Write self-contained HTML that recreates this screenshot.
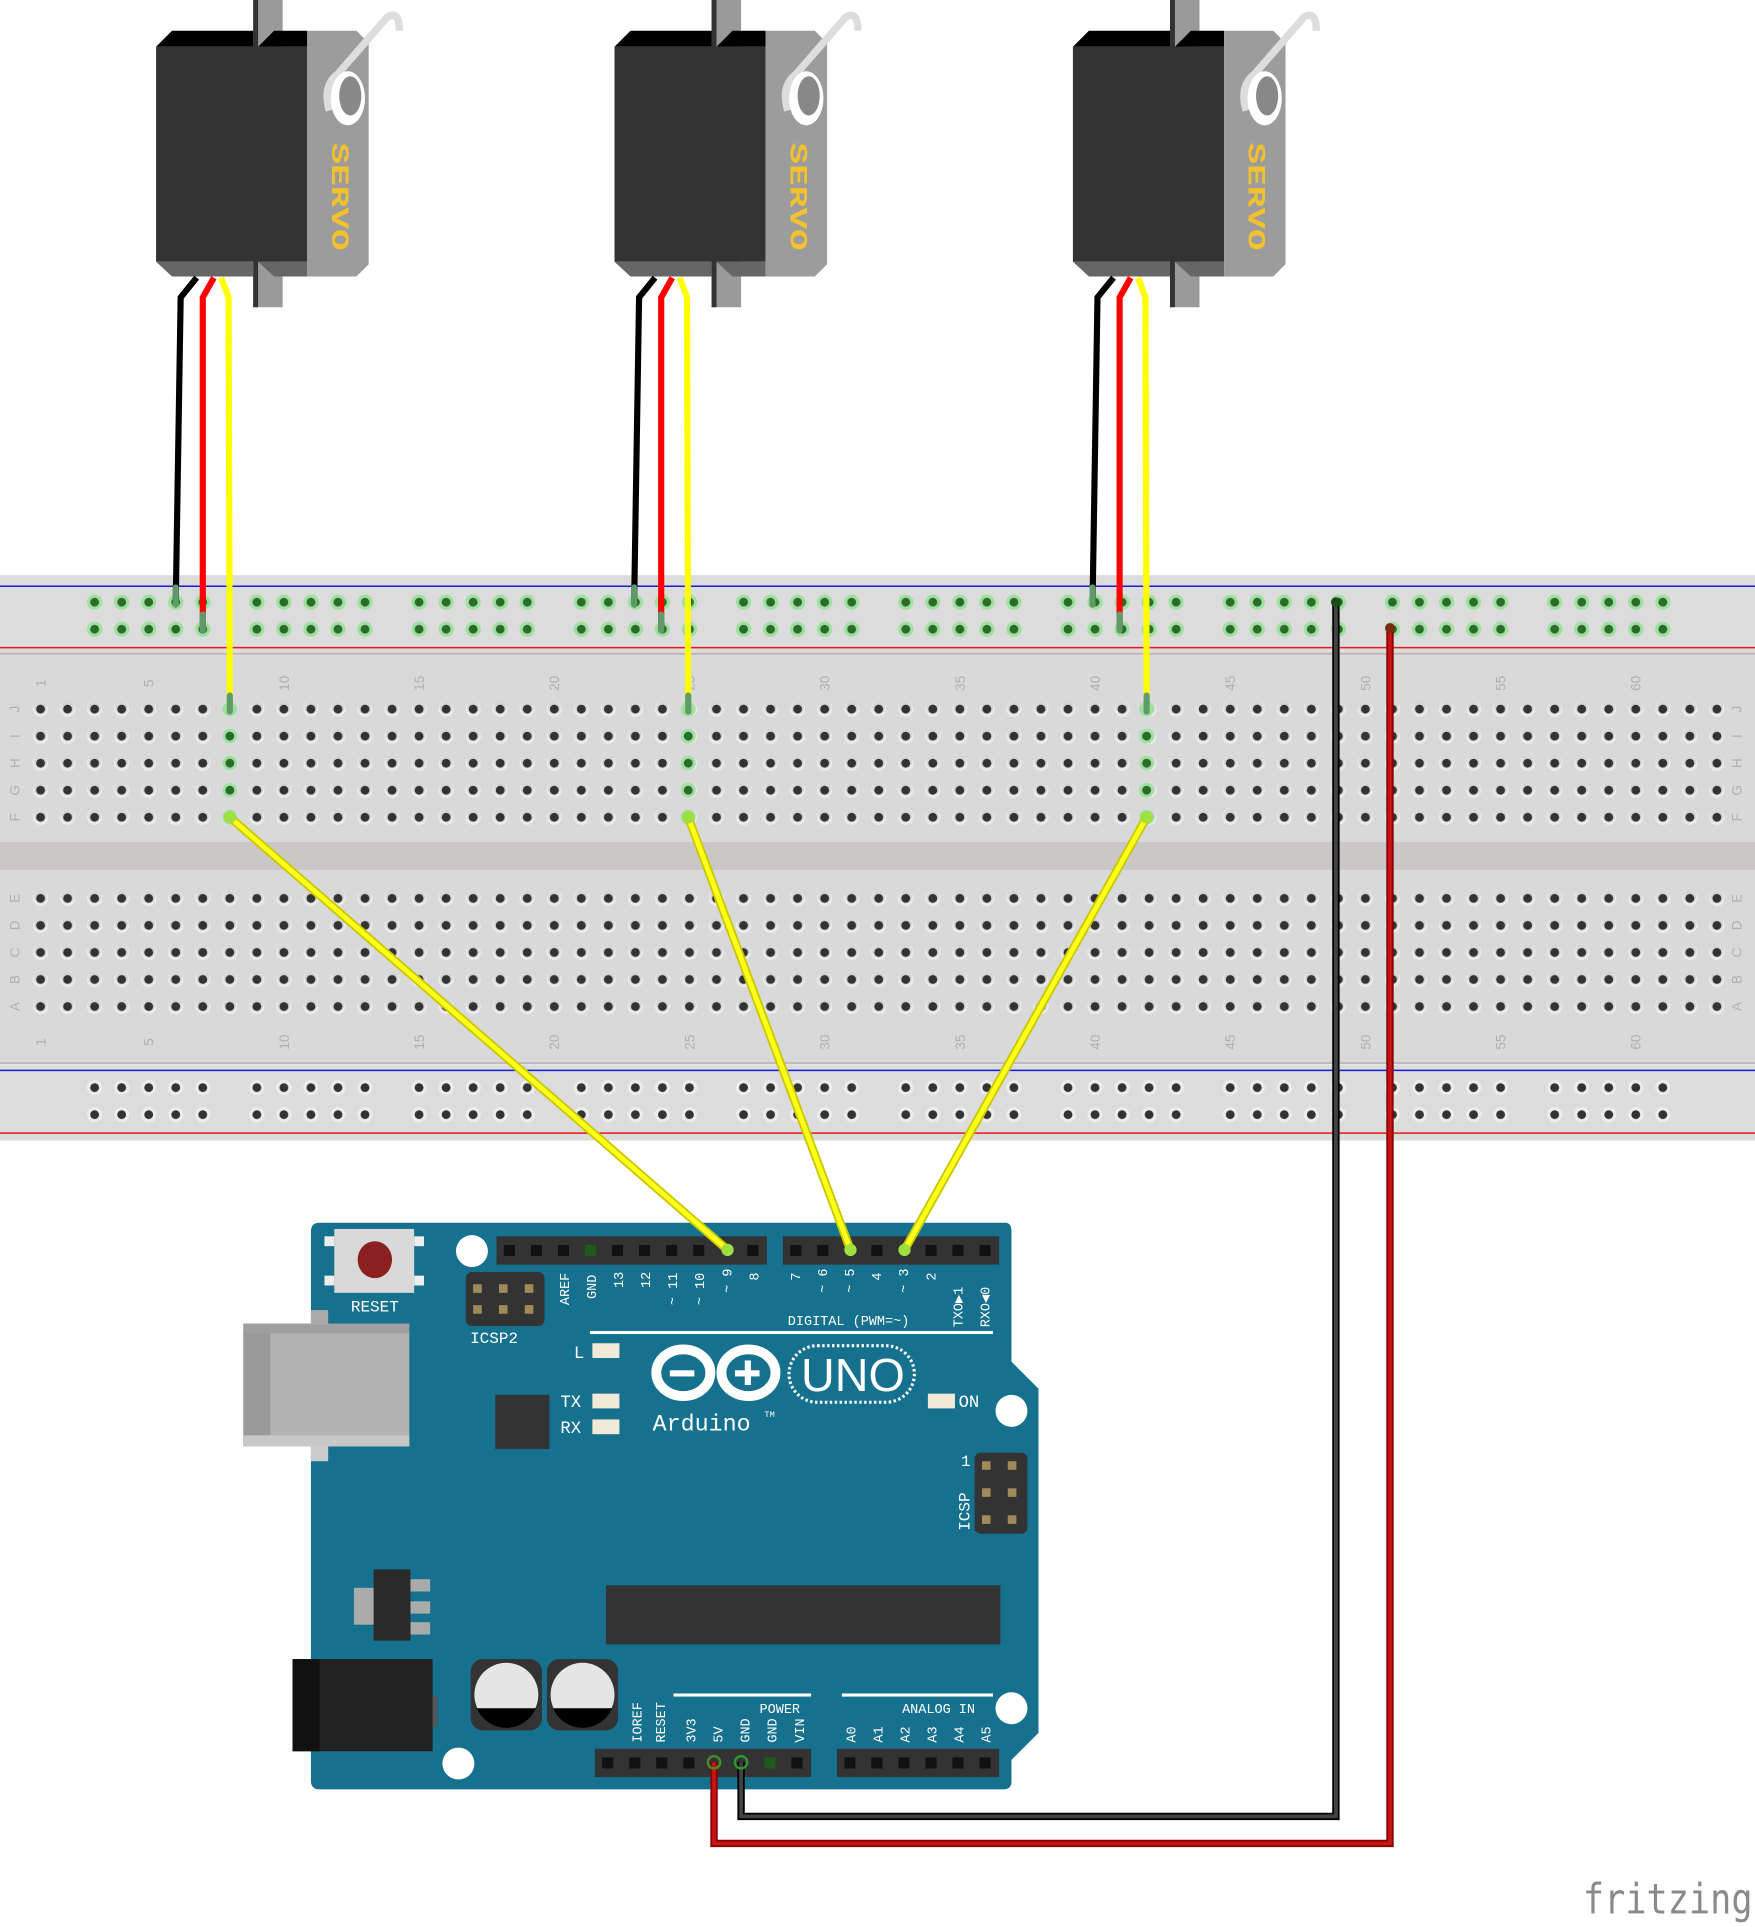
<!DOCTYPE html>
<html><head><meta charset="utf-8"><style>html,body{margin:0;padding:0;background:#fff}svg{display:block}</style></head>
<body>
<svg width="1755" height="1927" viewBox="0 0 1428 1568" preserveAspectRatio="none" xmlns="http://www.w3.org/2000/svg" font-family="Liberation Mono, monospace">
<defs>
<pattern id="hp" x="22" y="566" width="22" height="22" patternUnits="userSpaceOnUse">
<circle cx="11" cy="11" r="6.2" fill="#ececec"/><circle cx="11" cy="10" r="5.2" fill="#c8c8c8" opacity=".6"/><circle cx="11" cy="11" r="3.6" fill="#333"/></pattern>
<pattern id="hp2" x="22" y="720" width="22" height="22" patternUnits="userSpaceOnUse">
<circle cx="11" cy="11" r="6.2" fill="#ececec"/><circle cx="11" cy="10" r="5.2" fill="#c8c8c8" opacity=".6"/><circle cx="11" cy="11" r="3.6" fill="#333"/></pattern>
<pattern id="rg" x="66" y="479" width="132" height="22" patternUnits="userSpaceOnUse">
<g fill="#9ee09e"><circle cx="11" cy="11" r="6.2"/><circle cx="33" cy="11" r="6.2"/><circle cx="55" cy="11" r="6.2"/><circle cx="77" cy="11" r="6.2"/><circle cx="99" cy="11" r="6.2"/></g>
<g fill="#2d6a2d"><circle cx="11" cy="11" r="3.6"/><circle cx="33" cy="11" r="3.6"/><circle cx="55" cy="11" r="3.6"/><circle cx="77" cy="11" r="3.6"/><circle cx="99" cy="11" r="3.6"/></g></pattern>
<pattern id="rb" x="66" y="874" width="132" height="22" patternUnits="userSpaceOnUse">
<g fill="#ececec"><circle cx="11" cy="11" r="6.2"/><circle cx="33" cy="11" r="6.2"/><circle cx="55" cy="11" r="6.2"/><circle cx="77" cy="11" r="6.2"/><circle cx="99" cy="11" r="6.2"/></g>
<g fill="#333"><circle cx="11" cy="11" r="3.6"/><circle cx="33" cy="11" r="3.6"/><circle cx="55" cy="11" r="3.6"/><circle cx="77" cy="11" r="3.6"/><circle cx="99" cy="11" r="3.6"/></g></pattern>
<g id="servo">
<rect x="206" y="0" width="24" height="250" fill="#9a9a9a"/><rect x="206" y="0" width="4" height="250" fill="#333"/>
<polygon points="127,38 140,25 206,25 206,38" fill="#000"/>
<polygon points="210,38 223,25 250,25 250,38" fill="#000"/>
<rect x="127" y="38" width="123" height="175" fill="#333"/>
<polygon points="127,213 206,213 206,225 140,225" fill="#666"/>
<polygon points="210,213 250,213 250,225 223,225" fill="#666"/>
<polygon points="250,25 290,25 300,35 300,215 290,225 250,225" fill="#9c9c9c"/>
<path d="M268,90 Q262,70 275,60 L315,14 Q325,8 325,25" fill="none" stroke="#ddd" stroke-width="6"/>
<ellipse cx="283" cy="80" rx="14" ry="22" fill="#fff"/>
<ellipse cx="285" cy="78" rx="9" ry="16" fill="#888"/>
<text x="276" y="166" transform="rotate(90 276 160)" font-size="20" font-weight="bold" fill="#f2c12e" text-anchor="middle" textLength="88" lengthAdjust="spacingAndGlyphs">SERVO</text>
<polyline points="160,226 147,242 143,490" fill="none" stroke="#000" stroke-width="5"/>
<polyline points="174,226 165,242 165,511" fill="none" stroke="#f00" stroke-width="5"/>
<polyline points="180,226 186,242 187,577" fill="none" stroke="#ff0" stroke-width="5"/>
<line x1="143" y1="478" x2="143" y2="492" stroke="#5f9a6a" stroke-width="5" stroke-linecap="round"/>
<line x1="165" y1="500" x2="165" y2="513" stroke="#5f9a6a" stroke-width="5" stroke-linecap="round"/>
<line x1="187" y1="566" x2="187" y2="579" stroke="#5f9a6a" stroke-width="5" stroke-linecap="round"/>
</g>
</defs>

<!-- breadboard -->
<rect x="0" y="468" width="1428" height="62" fill="#dcdcdc"/>
<line x1="0" y1="477" x2="1428" y2="477" stroke="#1a1adb" stroke-width="1.2"/>
<line x1="0" y1="527" x2="1428" y2="527" stroke="#e81818" stroke-width="1.2"/>
<rect x="0" y="530" width="1428" height="155" fill="#d9d9d9"/>
<line x1="0" y1="532" x2="1428" y2="532" stroke="#bdb9b9" stroke-width="1.5"/>
<rect x="0" y="685" width="1428" height="23" fill="#cbc7c7"/>
<rect x="0" y="708" width="1428" height="157" fill="#d9d9d9"/>
<line x1="0" y1="865" x2="1428" y2="865" stroke="#bdb9b9" stroke-width="1.5"/>
<rect x="0" y="866" width="1428" height="62" fill="#dcdcdc"/>
<line x1="0" y1="871" x2="1428" y2="871" stroke="#1a1adb" stroke-width="1.2"/>
<line x1="0" y1="922" x2="1428" y2="922" stroke="#e81818" stroke-width="1.2"/>
<rect x="66" y="479" width="1298" height="44" fill="url(#rg)"/>
<rect x="66" y="874" width="1298" height="44" fill="url(#rb)"/>
<rect x="22" y="566" width="1386" height="110" fill="url(#hp)"/>
<rect x="22" y="720" width="1386" height="110" fill="url(#hp2)"/>
<g font-size="11" fill="#b0b0b0" font-family="Liberation Sans, sans-serif">
<g text-anchor="middle">
<text transform="translate(37,556) rotate(-90)">1</text><text transform="translate(125,556) rotate(-90)">5</text><text transform="translate(235,556) rotate(-90)">10</text><text transform="translate(345,556) rotate(-90)">15</text><text transform="translate(455,556) rotate(-90)">20</text><text transform="translate(565,556) rotate(-90)">25</text><text transform="translate(675,556) rotate(-90)">30</text><text transform="translate(785,556) rotate(-90)">35</text><text transform="translate(895,556) rotate(-90)">40</text><text transform="translate(1005,556) rotate(-90)">45</text><text transform="translate(1115,556) rotate(-90)">50</text><text transform="translate(1225,556) rotate(-90)">55</text><text transform="translate(1335,556) rotate(-90)">60</text>
<text transform="translate(37,848) rotate(-90)">1</text><text transform="translate(125,848) rotate(-90)">5</text><text transform="translate(235,848) rotate(-90)">10</text><text transform="translate(345,848) rotate(-90)">15</text><text transform="translate(455,848) rotate(-90)">20</text><text transform="translate(565,848) rotate(-90)">25</text><text transform="translate(675,848) rotate(-90)">30</text><text transform="translate(785,848) rotate(-90)">35</text><text transform="translate(895,848) rotate(-90)">40</text><text transform="translate(1005,848) rotate(-90)">45</text><text transform="translate(1115,848) rotate(-90)">50</text><text transform="translate(1225,848) rotate(-90)">55</text><text transform="translate(1335,848) rotate(-90)">60</text>
<text transform="translate(16,577) rotate(-90)">J</text><text transform="translate(16,599) rotate(-90)">I</text><text transform="translate(16,621) rotate(-90)">H</text><text transform="translate(16,643) rotate(-90)">G</text><text transform="translate(16,665) rotate(-90)">F</text>
<text transform="translate(16,731) rotate(-90)">E</text><text transform="translate(16,753) rotate(-90)">D</text><text transform="translate(16,775) rotate(-90)">C</text><text transform="translate(16,797) rotate(-90)">B</text><text transform="translate(16,819) rotate(-90)">A</text>
<text transform="translate(1417,577) rotate(-90)">J</text><text transform="translate(1417,599) rotate(-90)">I</text><text transform="translate(1417,621) rotate(-90)">H</text><text transform="translate(1417,643) rotate(-90)">G</text><text transform="translate(1417,665) rotate(-90)">F</text>
<text transform="translate(1417,731) rotate(-90)">E</text><text transform="translate(1417,753) rotate(-90)">D</text><text transform="translate(1417,775) rotate(-90)">C</text><text transform="translate(1417,797) rotate(-90)">B</text><text transform="translate(1417,819) rotate(-90)">A</text>
</g></g>
<!-- green column highlights -->
<g fill="#9ee09e"><circle cx="187" cy="577" r="6"/><circle cx="187" cy="599" r="6"/><circle cx="187" cy="621" r="6"/><circle cx="187" cy="643" r="6"/><circle cx="187" cy="665" r="6"/>
<circle cx="560" cy="577" r="6"/><circle cx="560" cy="599" r="6"/><circle cx="560" cy="621" r="6"/><circle cx="560" cy="643" r="6"/><circle cx="560" cy="665" r="6"/>
<circle cx="933" cy="577" r="6"/><circle cx="933" cy="599" r="6"/><circle cx="933" cy="621" r="6"/><circle cx="933" cy="643" r="6"/><circle cx="933" cy="665" r="6"/></g>
<g fill="#2d6a2d"><circle cx="187" cy="599" r="3.6"/><circle cx="187" cy="621" r="3.6"/><circle cx="187" cy="643" r="3.6"/>
<circle cx="560" cy="599" r="3.6"/><circle cx="560" cy="621" r="3.6"/><circle cx="560" cy="643" r="3.6"/>
<circle cx="933" cy="599" r="3.6"/><circle cx="933" cy="621" r="3.6"/><circle cx="933" cy="643" r="3.6"/></g>

<!-- servos -->
<use href="#servo"/>
<use href="#servo" x="373"/>
<use href="#servo" x="746"/>

<!-- arduino -->
<path d="M260,995 L818,995 Q823,995 823,1002 L823,1108 L845,1130 L845,1410 L823,1432 L823,1450 Q823,1456 816,1456 L260,1456 Q253,1456 253,1449 L253,1002 Q253,995 260,995 Z" fill="#16718f"/>
<rect x="198" y="1077" width="135" height="100" fill="#b3b3b3"/><rect x="198" y="1077" width="22" height="100" fill="#9a9a9a"/><rect x="198" y="1077" width="135" height="8" fill="#a0a0a0"/><rect x="198" y="1168" width="135" height="9" fill="#c8c8c8"/>
<rect x="253" y="1066" width="14" height="12" fill="#aaa"/><rect x="253" y="1177" width="14" height="12" fill="#ccc"/>
<rect x="238" y="1350" width="114" height="75" fill="#222"/><rect x="238" y="1350" width="22" height="75" fill="#111"/><rect x="352" y="1380" width="4" height="25" fill="#555"/>
<rect x="272" y="1000" width="65" height="52" fill="#d9d9d9"/><rect x="264" y="1006" width="8" height="8" fill="#eee"/><rect x="264" y="1038" width="8" height="8" fill="#eee"/><rect x="337" y="1006" width="8" height="8" fill="#eee"/><rect x="337" y="1038" width="8" height="8" fill="#eee"/>
<ellipse cx="305" cy="1025" rx="14" ry="15" fill="#8b2020"/>
<text x="305" y="1067" font-size="13" fill="#fff" text-anchor="middle">RESET</text>
<circle cx="384" cy="1018" r="13" fill="#fff"/><circle cx="823" cy="1148" r="13" fill="#fff"/><circle cx="823" cy="1390" r="13" fill="#fff"/><circle cx="373" cy="1435" r="13" fill="#fff"/>
<!-- headers -->
<rect x="404" y="1006" width="220" height="23" fill="#333"/><rect x="637" y="1006" width="176" height="23" fill="#333"/>
<rect x="484" y="1423" width="176" height="23" fill="#333"/><rect x="681" y="1423" width="132" height="23" fill="#333"/>
<g fill="#111">
<rect x="410" y="1013" width="9" height="9"/><rect x="432" y="1013" width="9" height="9"/><rect x="454" y="1013" width="9" height="9"/><rect x="476" y="1013" width="9" height="9" fill="#1e5a1e"/><rect x="498" y="1013" width="9" height="9"/><rect x="520" y="1013" width="9" height="9"/><rect x="542" y="1013" width="9" height="9"/><rect x="564" y="1013" width="9" height="9"/><rect x="608" y="1013" width="9" height="9"/>
<rect x="643" y="1013" width="9" height="9"/><rect x="665" y="1013" width="9" height="9"/><rect x="709" y="1013" width="9" height="9"/><rect x="753" y="1013" width="9" height="9"/><rect x="775" y="1013" width="9" height="9"/><rect x="797" y="1013" width="9" height="9"/>
<rect x="490" y="1430" width="9" height="9"/><rect x="512" y="1430" width="9" height="9"/><rect x="534" y="1430" width="9" height="9"/><rect x="556" y="1430" width="9" height="9"/><rect x="622" y="1430" width="9" height="9" fill="#1e5a1e"/><rect x="644" y="1430" width="9" height="9"/>
<rect x="687" y="1430" width="9" height="9"/><rect x="709" y="1430" width="9" height="9"/><rect x="731" y="1430" width="9" height="9"/><rect x="753" y="1430" width="9" height="9"/><rect x="775" y="1430" width="9" height="9"/><rect x="797" y="1430" width="9" height="9"/>
</g>
<!-- icsp -->
<rect x="379" y="1035" width="64" height="44" rx="5" fill="#333"/>
<g fill="#a08a5a"><rect x="385" y="1045" width="7" height="7"/><rect x="406" y="1045" width="7" height="7"/><rect x="427" y="1045" width="7" height="7"/><rect x="385" y="1062" width="7" height="7"/><rect x="406" y="1062" width="7" height="7"/><rect x="427" y="1062" width="7" height="7"/></g>
<text x="402" y="1093" font-size="13" fill="#fff" text-anchor="middle">ICSP2</text>
<rect x="793" y="1182" width="43" height="66" rx="5" fill="#333"/>
<g fill="#a08a5a"><rect x="799" y="1189" width="7" height="7"/><rect x="820" y="1189" width="7" height="7"/><rect x="799" y="1211" width="7" height="7"/><rect x="820" y="1211" width="7" height="7"/><rect x="799" y="1233" width="7" height="7"/><rect x="820" y="1233" width="7" height="7"/></g>
<text transform="translate(789,1230) rotate(-90)" font-size="13" fill="#fff" text-anchor="middle">ICSP</text>
<text x="782" y="1193" font-size="13" fill="#fff">1</text>
<!-- pin labels -->
<g font-size="11" fill="#fff">
<text transform="translate(463,1062) rotate(-90)">AREF</text><text transform="translate(485,1057) rotate(-90)">GND</text><text transform="translate(507,1048) rotate(-90)">13</text><text transform="translate(529,1048) rotate(-90)">12</text><text transform="translate(551,1062) rotate(-90)">~ 11</text><text transform="translate(573,1062) rotate(-90)">~ 10</text><text transform="translate(595,1052) rotate(-90)">~ 9</text><text transform="translate(617,1042) rotate(-90)">8</text>
<text transform="translate(651,1042) rotate(-90)">7</text><text transform="translate(673,1052) rotate(-90)">~ 6</text><text transform="translate(695,1052) rotate(-90)">~ 5</text><text transform="translate(717,1042) rotate(-90)">4</text><text transform="translate(739,1052) rotate(-90)">~ 3</text><text transform="translate(761,1042) rotate(-90)">2</text><text transform="translate(783,1080) rotate(-90)">TXO▶1</text><text transform="translate(805,1080) rotate(-90)">RXO◀0</text>
<text x="641" y="1078">DIGITAL (PWM=~)</text>
<text transform="translate(522,1418) rotate(-90)">IOREF</text><text transform="translate(541,1418) rotate(-90)">RESET</text><text transform="translate(566,1418) rotate(-90)">3V3</text><text transform="translate(588,1418) rotate(-90)">5V</text><text transform="translate(610,1418) rotate(-90)">GND</text><text transform="translate(632,1418) rotate(-90)">GND</text><text transform="translate(654,1418) rotate(-90)">VIN</text>
<text x="618" y="1394">POWER</text><text x="734" y="1394">ANALOG IN</text>
<text transform="translate(696,1418) rotate(-90)">A0</text><text transform="translate(718,1418) rotate(-90)">A1</text><text transform="translate(740,1418) rotate(-90)">A2</text><text transform="translate(762,1418) rotate(-90)">A3</text><text transform="translate(784,1418) rotate(-90)">A4</text><text transform="translate(806,1418) rotate(-90)">A5</text>
</g>
<g fill="#fff"><rect x="480" y="1083" width="328" height="2.5"/><rect x="548" y="1378" width="112" height="2.5"/><rect x="685" y="1378" width="123" height="2.5"/></g>
<g font-size="14" fill="#fff"><text x="467" y="1105">L</text><text x="456" y="1145">TX</text><text x="456" y="1166">RX</text><text x="780" y="1145">ON</text></g>
<g fill="#f2ead8"><rect x="482" y="1093" width="22" height="12"/><rect x="482" y="1134" width="22" height="12"/><rect x="482" y="1155" width="22" height="12"/><rect x="755" y="1134" width="22" height="12"/></g>
<rect x="403" y="1135" width="44" height="44" fill="#333"/>
<!-- logo -->
<g fill="none" stroke="#fff" stroke-width="8"><ellipse cx="556" cy="1117" rx="22" ry="19"/><ellipse cx="609" cy="1117" rx="22" ry="19"/></g>
<rect x="545" y="1115" width="20" height="5" fill="#fff"/><rect x="598" y="1115" width="20" height="5" fill="#fff"/><rect x="606" y="1107" width="5" height="20" fill="#fff"/>
<rect x="642" y="1095" width="102" height="46" rx="23" fill="none" stroke="#fff" stroke-width="2.5" stroke-dasharray="2 2"/>
<text x="694" y="1132" font-family="Liberation Sans, sans-serif" font-size="38" fill="#fff" text-anchor="middle">UNO</text>
<text x="531" y="1164" font-size="19" fill="#fff">Arduino</text><text x="622" y="1153" font-size="7" fill="#fff">TM</text>
<!-- regulator, chip, caps -->
<rect x="288" y="1292" width="20" height="30" fill="#aaa"/><rect x="330" y="1285" width="20" height="10" fill="#aaa"/><rect x="330" y="1303" width="20" height="10" fill="#aaa"/><rect x="330" y="1320" width="20" height="10" fill="#aaa"/>
<rect x="304" y="1277" width="30" height="58" fill="#2a2a2a"/>
<rect x="493" y="1290" width="321" height="48" fill="#333"/>
<g><rect x="383" y="1350" width="58" height="58" rx="10" fill="#333"/><circle cx="412" cy="1379" r="26" fill="#e5e5e5"/><path d="M388,1390 A26,26 0 0 0 436,1390 Z" fill="#000"/>
<rect x="445" y="1350" width="58" height="58" rx="10" fill="#333"/><circle cx="474" cy="1379" r="26" fill="#e5e5e5"/><path d="M450,1390 A26,26 0 0 0 498,1390 Z" fill="#000"/></g>

<!-- yellow wires to arduino -->
<g stroke="#c8c800" stroke-width="7" stroke-linecap="round"><line x1="187" y1="665" x2="592" y2="1017"/><line x1="560" y1="665" x2="692" y2="1017"/><line x1="933" y1="665" x2="736" y2="1017"/></g>
<g stroke="#ffff1a" stroke-width="4" stroke-linecap="round"><line x1="187" y1="665" x2="592" y2="1017"/><line x1="560" y1="665" x2="692" y2="1017"/><line x1="933" y1="665" x2="736" y2="1017"/></g>
<g fill="#9ee040"><circle cx="187" cy="665" r="5"/><circle cx="560" cy="665" r="5"/><circle cx="933" cy="665" r="5"/><circle cx="592" cy="1017" r="5"/><circle cx="692" cy="1017" r="5"/><circle cx="736" cy="1017" r="5"/></g>

<!-- power wires -->
<polyline points="1087,490 1087,1478 603,1478 603,1434" fill="none" stroke="#000" stroke-width="6"/>
<polyline points="1087,490 1087,1478 603,1478 603,1434" fill="none" stroke="#444" stroke-width="3"/>
<polyline points="1131,511 1131,1500 581,1500 581,1434" fill="none" stroke="#800" stroke-width="6"/>
<polyline points="1131,511 1131,1500 581,1500 581,1434" fill="none" stroke="#c81414" stroke-width="3"/>
<circle cx="1087" cy="490" r="4" fill="#1a4a1a"/><circle cx="1131" cy="511" r="4" fill="#7a2a10"/>
<circle cx="603" cy="1434" r="5" fill="none" stroke="#2a9a2a" stroke-width="2"/><circle cx="581" cy="1434" r="5" fill="none" stroke="#4a8a2a" stroke-width="2"/>

<text x="1288" y="1557" font-family="DejaVu Sans Mono, monospace" font-size="34" fill="#8a8a8a" textLength="138" lengthAdjust="spacingAndGlyphs">fritzing</text>
</svg>
</body></html>
